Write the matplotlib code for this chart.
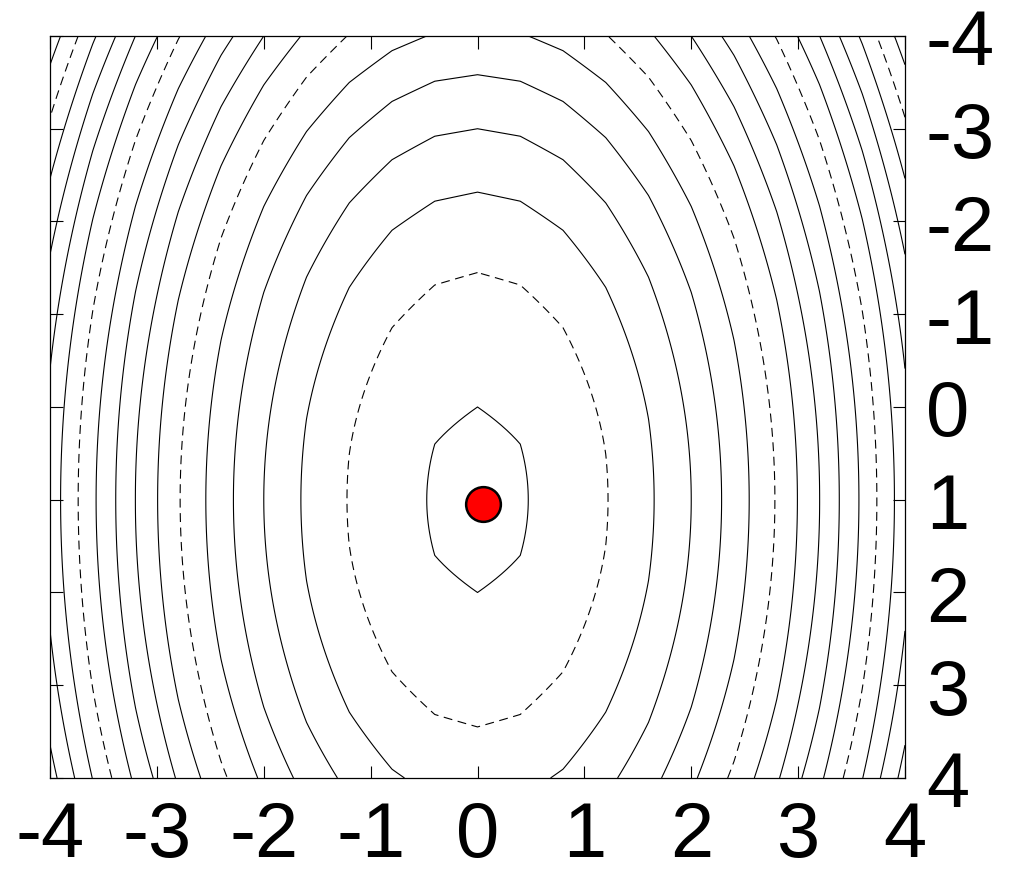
import numpy as np
import matplotlib
matplotlib.use('agg')
import matplotlib.pyplot as plt

plt.rcParams['font.family'] = ['Liberation Sans', 'DejaVu Sans']
plt.rcParams['axes.unicode_minus'] = False

# surface: F = a*(x-x0)^2 + b*(y-y0)^2, coarse in x, fine in y
grid_x = np.linspace(-4, 4, 21)
grid_y = np.linspace(-4, 4, 161)
x0, y0 = 0.0, 1.0
a, b = 4.0, 1.0

solid_levels = [1, 11, 16, 21, 26, 36, 41, 46, 51, 61, 66, 71, 76, 86]
dashed_levels = [6, 31, 56, 81]

point_x = [0.05]
point_y = [1.05]

ticks = [-4, -3, -2, -1, 0, 1, 2, 3, 4]

X, Y = np.meshgrid(grid_x, grid_y)
Z = a * (X - x0) ** 2 + b * (Y - y0) ** 2

fig = plt.figure(figsize=(10.09, 8.70), dpi=100)
ax = fig.add_axes([0.0496, 0.1046, 0.8473, 0.8529])

ax.contour(X, Y, Z, levels=solid_levels, colors='black', linewidths=0.8,
           linestyles='solid')
ax.contour(X, Y, Z, levels=dashed_levels, colors='black', linewidths=0.8,
           linestyles=[(0, (8, 5))])

ax.plot(point_x, point_y, 'o', markersize=25, markerfacecolor='red',
        markeredgecolor='black', markeredgewidth=1.8)

ax.set_xlim(-4, 4)
ax.set_ylim(4, -4)
ax.set_xticks(ticks)
ax.set_yticks(ticks)
ax.set_xticklabels([str(t) for t in ticks])
ax.set_yticklabels([str(t) for t in ticks])

ax.tick_params(axis='both', which='both', direction='in', length=9, width=0.8,
               top=True, bottom=True, left=True, right=True,
               labelleft=False, labelright=True, labelbottom=True, labeltop=False,
               labelsize=56)
ax.tick_params(axis='x', pad=15)
ax.tick_params(axis='y', pad=15)
for s in ax.spines.values():
    s.set_linewidth(0.9)

plt.savefig('out.png', dpi=100)
